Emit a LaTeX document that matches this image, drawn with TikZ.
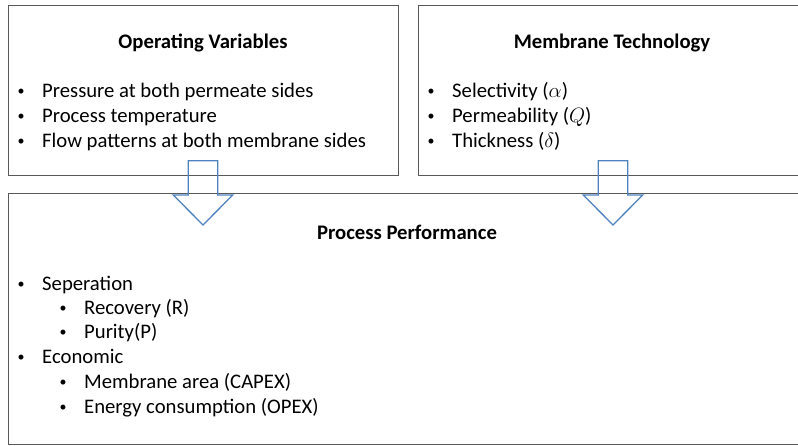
\documentclass[tikz,border=0pt]{standalone}
\usepackage{fontspec}
\setmainfont{Carlito}
\definecolor{boxgray}{RGB}{89,89,89}
\definecolor{arrowblue}{RGB}{79,129,189}
% small bullet hung to the left of the item text
\newcommand{\hangdot}{\llap{\raisebox{1.6pt}{\fontsize{14}{14}\selectfont•}\hspace{17.5pt}}}
\begin{document}
\begin{tikzpicture}[x=1pt,y=-1pt,
  panel/.style={draw=boxgray, line width=1.1pt, inner sep=0pt, anchor=north west},
  heading/.style={font=\fontsize{20.7}{25}\selectfont\bfseries, anchor=base, inner sep=0pt},
  item/.style={font=\fontsize{20.7}{25}\selectfont, anchor=base west, inner sep=0pt},
  flowarrow/.style={draw=arrowblue, line width=1.3pt, line join=miter}]
\useasboundingbox (0,0) rectangle (798,445);

% panels
\node[panel, minimum width=390.5pt, minimum height=169.5pt] (ov) at (7.5,5) {};
\node[panel, minimum width=389pt, minimum height=169.5pt] (mt) at (417.5,5) {};
\node[panel, minimum width=799pt, minimum height=251.5pt] (pp) at (7.5,192.5) {};

% block arrows from the upper panels into the lower one
\coordinate (a1) at (203,160.7);
\coordinate (a2) at (613,160.7);
\foreach \c in {a1,a2}
  \draw[flowarrow] (\c) ++(-14.7,0) -- ++(29.4,0) -- ++(0,34.3) -- ++(15,0)
    -- ++(-29.7,30) -- ++(-29.7,-30) -- ++(15,0) -- cycle;

% Operating Variables
\node[heading] (ovt) at (203,48) {Operating Variables};
\node[item] (ov1) at (42,97) {\hangdot Pressure at both permeate sides};
\node[item] (ov2) at (42,122) {\hangdot Process temperature};
\node[item] (ov3) at (42,147) {\hangdot Flow patterns at both membrane sides};

% Membrane Technology
\node[heading] (mtt) at (612,48) {Membrane Technology};
\node[item] (mt1) at (452,97) {\hangdot Selectivity ($\alpha$)};
\node[item] (mt2) at (452,122) {\hangdot Permeability ($Q$)};
\node[item] (mt3) at (452,147) {\hangdot Thickness ($\delta$)};

% Process Performance
\node[heading] (ppt) at (407,239.5) {Process Performance};
\node[item] (pp1) at (42,290) {\hangdot Seperation};
\node[item] (pp2) at (84,314) {\hangdot Recovery (R)};
\node[item] (pp3) at (84,338) {\hangdot Purity(P)};
\node[item] (pp4) at (42,363) {\hangdot Economic};
\node[item] (pp5) at (84,388) {\hangdot Membrane area (CAPEX)};
\node[item] (pp6) at (84,413) {\hangdot Energy consumption (OPEX)};
\end{tikzpicture}
\end{document}
